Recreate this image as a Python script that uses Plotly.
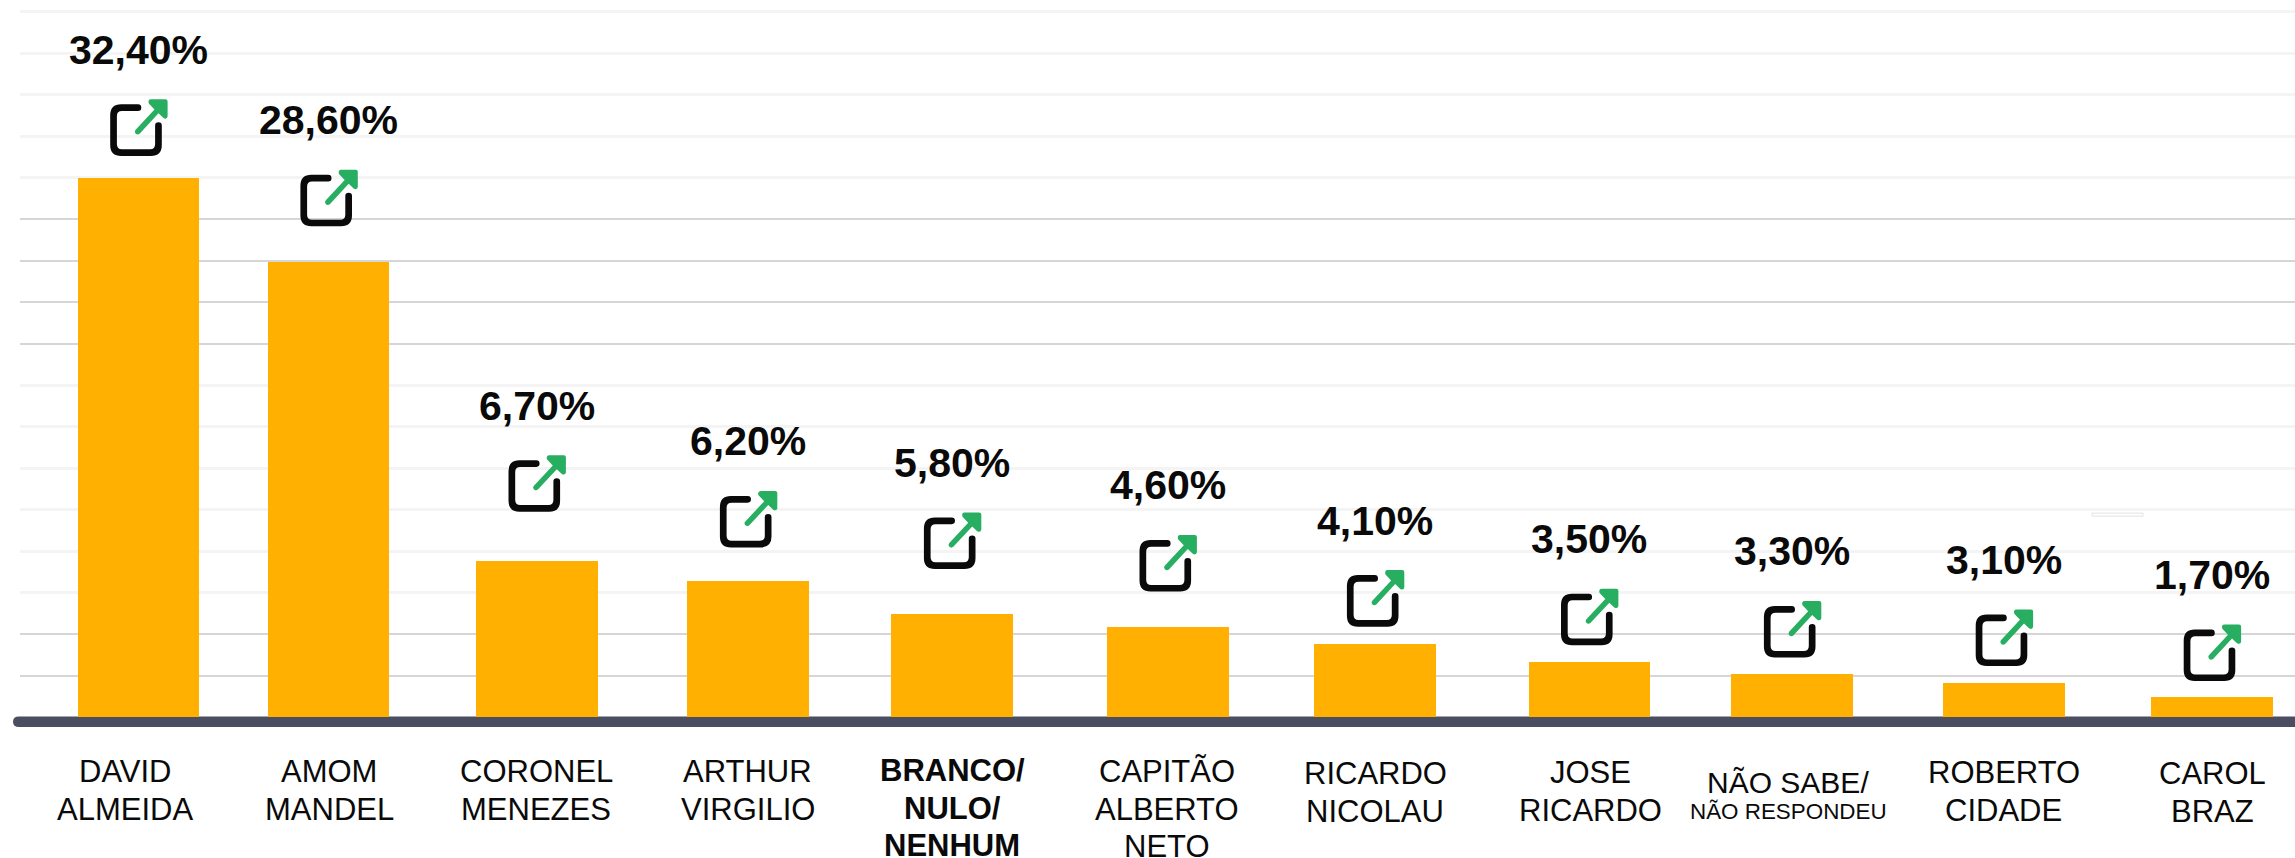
import plotly.graph_objects as go

# ---------- data ----------
candidates = ["DAVID ALMEIDA", "AMOM MANDEL", "CORONEL MENEZES", "ARTHUR VIRGILIO",
              "BRANCO/ NULO/ NENHUM", "CAPITÃO ALBERTO NETO", "RICARDO NICOLAU",
              "JOSE RICARDO", "NÃO SABE/ NÃO RESPONDEU", "ROBERTO CIDADE", "CAROL BRAZ"]
value_labels = ["32,40%", "28,60%", "6,70%", "6,20%", "5,80%", "4,60%", "4,10%",
                "3,50%", "3,30%", "3,10%", "1,70%"]
# The drawn bars are not proportional to the printed percentages: heights in grid steps
bar_heights = [13.0, 10.98, 3.75, 3.28, 2.49, 2.18, 1.76, 1.33, 1.03, 0.81, 0.49]

# ---------- layout (pixels of the 2295x858 page) ----------
W, H = 2295, 858
BASE_PX = 717.5
STEP_PX = 41.5
TOP_GRID = 17
bar_x = [138.5, 328.7, 536.8, 748.2, 952.2, 1167.8, 1375.2, 1589.3, 1792.2, 2004, 2212]
BAR_W = 121.5
icon_gap = [22, 35.3, 49.7, 33.4, 44.7, 35, 17.3, 16.6, 16.7, 17.3, 15.6]
bar_drop = [0, 0, 0, 0, 0, 0, 2, 2, 2, 2, 2]

label_lines = [["DAVID", "ALMEIDA"], ["AMOM", "MANDEL"], ["CORONEL", "MENEZES"],
               ["ARTHUR", "VIRGILIO"], ["BRANCO/", "NULO/", "NENHUM"],
               ["CAPITÃO", "ALBERTO", "NETO"], ["RICARDO", "NICOLAU"], ["JOSE", "RICARDO"],
               ["NÃO SABE/", "NÃO RESPONDEU"], ["ROBERTO", "CIDADE"], ["CAROL", "BRAZ"]]
label_x = [124.5, 329, 536.3, 747.5, 952, 1167, 1375, 1590, 1788, 2003.5, 2212]
label_y = [772.5, 772.5, 772.5, 772.5, 771.5, 772.5, 774.5, 773.5, 783.2, 773.5, 774.5]
LINE_PX = 37.3
FONT = "Liberation Sans, Arial, sans-serif"
ORANGE, SLATE, GREEN, INK = "#FFB000", "#4A4E60", "#27AE60", "#0A0A0A"
GRID_DARK, GRID_MID, GRID_LIGHT = "#D6D6D6", "#DCDCDC", "#F4F4F4"
dark_steps = [1, 2, 9, 10, 11, 12]
mid_steps = [8, 17]
light_steps = [s for s in range(1, TOP_GRID + 1) if s not in dark_steps]


def paper_x(px):
    return (px - 20) / (W - 20)


def paper_y(px):
    return (BASE_PX - px) / BASE_PX


fig = go.Figure(go.Bar(
    x=bar_x,
    y=[h + d / STEP_PX for h, d in zip(bar_heights, bar_drop)],
    base=[-d / STEP_PX for d in bar_drop],
    width=BAR_W,
    marker=dict(color=ORANGE, line_width=0),
    cliponaxis=False,
    hovertext=candidates,
    hoverinfo="text",
    name="",
))


def pt(x, y):
    """y given downward in the icon frame; pixel-sized shapes count upward."""
    return f"{x:.2f} {-y:.2f}"


def icon_paths(dy):
    """Open-box and arrow outline, centred 0,dy from the anchor (y downward)."""
    o, i, ro, ri = 25.8, 19.1, 11, 5
    t = lambda x, y: pt(x, y + dy)
    box = (
        f"M {t(2, -o)} L {t(-o + ro, -o)} Q {t(-o, -o)} {t(-o, -o + ro)} "
        f"L {t(-o, o - ro)} Q {t(-o, o)} {t(-o + ro, o)} "
        f"L {t(o - ro, o)} Q {t(o, o)} {t(o, o - ro)} "
        f"L {t(o, -4.5)} Q {t(o, -7.8)} {t(o - 3.3, -7.8)} Q {t(i, -7.8)} {t(i, -4.5)} "
        f"L {t(i, i - ri)} Q {t(i, i)} {t(i - ri, i)} "
        f"L {t(-i + ri, i)} Q {t(-i, i)} {t(-i, i - ri)} "
        f"L {t(-i, -i + ri)} Q {t(-i, -i)} {t(-i + ri, -i)} "
        f"L {t(2, -i)} Q {t(5.3, -i)} {t(5.3, -22.4)} Q {t(5.3, -o)} {t(2, -o)} Z"
    )
    arrow = (
        f"M {t(-0.6, 0.0)} L {t(18.5, -20.5)} L {t(12.8, -26.5)} "
        f"Q {t(11.5, -30.6)} {t(15, -30.8)} L {t(29.5, -30.8)} "
        f"Q {t(31.6, -30.8)} {t(31.6, -28.7)} L {t(31.6, -13.5)} "
        f"Q {t(31, -10.3)} {t(27.5, -12)} L {t(22.5, -16.8)} "
        f"L {t(3.6, 3.6)} Q {t(1.5, 5.2)} {t(-0.3, 3.6)} Q {t(-2, 1.7)} {t(-0.6, 0.0)} Z"
    )
    return box, arrow


def band_path():
    l, e, top, bot = paper_x(13), paper_x(19), paper_y(717), paper_y(727.5)
    mid, right = paper_y(722.2), paper_x(W)
    return (f"M {e} {top} L {right} {top} L {right} {bot} L {e} {bot} "
            f"Q {l} {bot} {l} {mid} Q {l} {top} {e} {top} Z")


shapes = [dict(  # heavy base line with a rounded left end
    type="path", xref="paper", yref="paper", layer="below",
    path=band_path(), fillcolor=SLATE, line_width=0,
)]
for s in mid_steps:  # lines a shade stronger than the pale ones
    shapes.append(dict(type="line", xref="paper", yref="y", x0=0, x1=1, y0=s, y1=s,
                       line=dict(color=GRID_MID, width=1.5), layer="below"))
shapes.append(dict(  # faint stray box above the last column
    type="rect", xref="x", yref="y",
    x0=2092, x1=2143, y0=(BASE_PX - 516.5) / STEP_PX, y1=(BASE_PX - 513.5) / STEP_PX,
    fillcolor="white", line=dict(color="#E2E2E2", width=1), layer="above",
))

annotations = []
for x, h, gap, txt in zip(bar_x, bar_heights, icon_gap, value_labels):
    dy = -(gap + 25.8)
    box, arrow = icon_paths(dy)
    for path, colour in ((box, INK), (arrow, GREEN)):
        shapes.append(dict(
            type="path", xref="x", yref="y",
            xsizemode="pixel", ysizemode="pixel",
            xanchor=x - 2.5, yanchor=h,
            path=path, fillcolor=colour, line_width=0, layer="above",
        ))
    annotations.append(dict(
        x=x, xref="x", y=h, yref="y",
        yshift=gap + 51.6 + 54.5, xanchor="center", yanchor="middle",
        text=f"<b>{txt}</b>", showarrow=False,
        font=dict(family=FONT, size=41, color=INK),
    ))

for i, (lines, lx, ly) in enumerate(zip(label_lines, label_x, label_y)):
    for j, line in enumerate(lines):
        size = 31
        if line == "NÃO SABE/":
            size = 30
        if line == "NÃO RESPONDEU":
            size = 22.4
        step = 29 if line == "NÃO RESPONDEU" else LINE_PX
        text = f"<b>{line}</b>" if i == 4 else line
        annotations.append(dict(
            x=lx, xref="x", y=paper_y(ly + j * step), yref="paper",
            xanchor="center", yanchor="middle", text=text, showarrow=False,
            font=dict(family=FONT, size=size, color=INK),
        ))

fig.update_layout(
    width=W, height=H,
    margin=dict(l=20, r=0, t=0, b=H - BASE_PX, pad=0, autoexpand=False),
    paper_bgcolor="white", plot_bgcolor="white",
    showlegend=False,
    bargap=0,
    xaxis=dict(range=[20, W], visible=False, fixedrange=True),
    yaxis=dict(
        range=[0, BASE_PX / STEP_PX],
        tickmode="array", tickvals=dark_steps, ticktext=[""] * len(dark_steps),
        showgrid=True, gridcolor=GRID_DARK, gridwidth=2,
        minor=dict(tickmode="array", tickvals=light_steps, showgrid=True,
                   gridcolor=GRID_LIGHT, gridwidth=3, ticks=""),
        showline=False, zeroline=False, ticks="", showticklabels=False, fixedrange=True,
    ),
    shapes=shapes,
    annotations=annotations,
)

fig.write_html("out.html", config=dict(displayModeBar=False),
               post_script="document.body.style.margin='0';")
